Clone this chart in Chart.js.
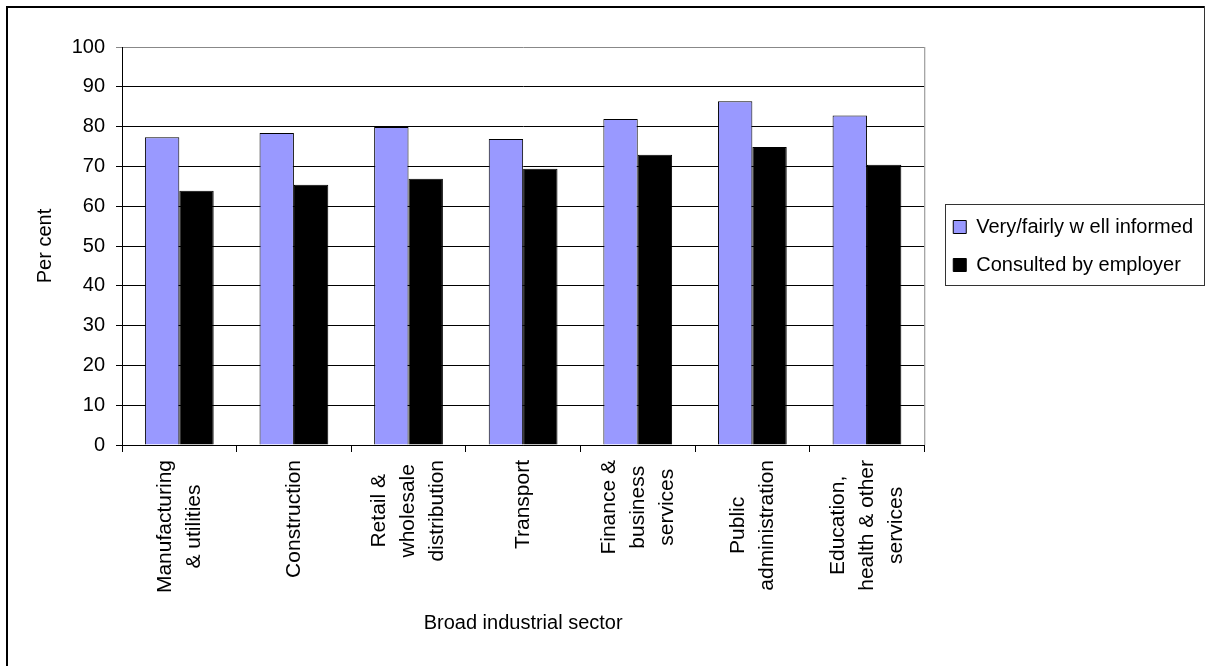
<!DOCTYPE html>
<html>
<head>
<meta charset="utf-8">
<script src="https://cdn.jsdelivr.net/npm/chart.js@4"></script>
<style>
  html, body { margin: 0; padding: 0; background: #fff; }
  #wrap { position: relative; width: 1211px; height: 666px; }
  .frame { position: absolute; background: #000; }
</style>
</head>
<body>
<div id="wrap">
  <canvas id="chart"></canvas>
  <div class="frame" style="left:6px;top:6px;width:1199px;height:2px;"></div>
  <div class="frame" style="left:6px;top:6px;width:2px;height:660px;"></div>
  <div class="frame" style="left:1204px;top:6px;width:1px;height:199px;background:#333;"></div>
</div>
<script>
const categories = [
  ["Manufacturing", "& utilities"],
  ["Construction"],
  ["Retail &", "wholesale", "distribution"],
  ["Transport"],
  ["Finance &", "business", "services"],
  ["Public", "administration"],
  ["Education,", "health & other", "services"]
];
const informed = [77.3, 78.4, 79.9, 76.9, 81.9, 86.4, 82.8];
const consulted = [63.9, 65.4, 66.9, 69.4, 72.9, 74.9, 70.4];
const seriesNames = ["Very/fairly w ell informed", "Consulted by employer"];

const FONT = '"Liberation Sans", Arial, sans-serif';

// category names drawn centred line by line, like the original
const categoryLabels = {
  id: "categoryLabels",
  afterDraw(chart) {
    const ctx = chart.ctx;
    const x = chart.scales.x;
    ctx.save();
    ctx.font = "21px " + FONT;
    ctx.fillStyle = "#000";
    ctx.textAlign = "center";
    ctx.textBaseline = "middle";
    categories.forEach((lines, i) => {
      const px = x.getPixelForTick(i);
      const longest = Math.max(...lines.map((l) => ctx.measureText(l).width));
      const cy = x.top + 15 + longest / 2;
      lines.forEach((line, j) => {
        const lx = px + (j - (lines.length - 1) / 2) * 29;
        ctx.save();
        ctx.translate(lx, cy);
        ctx.rotate(-Math.PI / 2);
        ctx.fillText(line, 0, 0);
        ctx.restore();
      });
    });
    ctx.restore();
  },
};

// grey right edge of the plot area and the box round the legend
const frames = {
  id: "frames",
  beforeDatasetsDraw(chart) {
    const { ctx, chartArea } = chart;
    ctx.save();
    ctx.strokeStyle = "#888";
    ctx.lineWidth = 1;
    ctx.beginPath();
    ctx.moveTo(chartArea.right + 0.5, chartArea.top);
    ctx.lineTo(chartArea.right + 0.5, chartArea.bottom);
    ctx.stroke();
    ctx.restore();
  },
  afterDraw(chart) {
    const boxes = chart.legend.legendHitBoxes;
    if (!boxes || !boxes.length) return;
    const ctx = chart.ctx;
    const first = boxes[0];
    const last = boxes[boxes.length - 1];
    const left = Math.round(first.left - 8);
    const top = Math.round(first.top - 13);
    const bottom = Math.round(last.top + last.height + 10);
    ctx.save();
    ctx.strokeStyle = "#333";
    ctx.lineWidth = 1;
    ctx.strokeRect(left + 0.5, top + 0.5, 1204 - left, bottom - top);
    ctx.restore();
  },
};

new Chart(document.getElementById("chart"), {
  type: "bar",
  data: {
    labels: categories,
    datasets: [
      {
        label: seriesNames[0],
        data: informed,
        backgroundColor: "#9999FF",
        borderColor: "#000",
        borderWidth: 1,
      },
      {
        label: seriesNames[1],
        data: consulted,
        backgroundColor: "#000",
        borderColor: "#000",
        borderWidth: 1,
      },
    ],
  },
  options: {
    responsive: true,
    maintainAspectRatio: false,
    animation: false,
    layout: { padding: { left: 0, top: 47, right: 8, bottom: 0 } },
    datasets: { bar: { categoryPercentage: 0.6, barPercentage: 1 } },
    plugins: {
      tooltip: { enabled: false },
      legend: {
        position: "right",
        align: "center",
        fullSize: false,
        maxWidth: 320,
        labels: {
          boxWidth: 13,
          boxHeight: 13,
          padding: 18,
          color: "#000",
          font: { family: FONT, size: 20 },
        },
      },
    },
    scales: {
      x: {
        grid: {
          display: true,
          drawOnChartArea: false,
          drawTicks: true,
          tickLength: 7,
          color: "#000",
          offset: true,
        },
        border: { color: "#000", width: 1 },
        ticks: { display: false },
        title: {
          display: true,
          text: "Broad industrial sector",
          color: "#000",
          font: { family: FONT, size: 20 },
          padding: { top: 0, bottom: 31 },
        },
        afterFit(scale) {
          scale.height = 221;
        },
      },
      y: {
        min: 0,
        max: 100,
        ticks: {
          stepSize: 10,
          padding: 11,
          color: "#000",
          font: { family: FONT, size: 20 },
        },
        grid: {
          color: (c) => (c.tick && c.tick.value === 100 ? "#888" : "#000"),
          tickLength: 6,
        },
        border: { color: "#000", width: 1 },
        title: {
          display: true,
          text: "Per cent",
          color: "#000",
          font: { family: FONT, size: 20 },
          padding: { top: 33, bottom: 0 },
        },
        afterFit(scale) {
          scale.width = 122;
        },
      },
      spacer: {
        type: "linear",
        position: "right",
        display: true,
        grid: { display: false },
        border: { display: false },
        ticks: { display: false },
        afterFit(scale) {
          scale.width = 11;
        },
      },
    },
  },
  plugins: [categoryLabels, frames],
});
</script>
</body>
</html>
